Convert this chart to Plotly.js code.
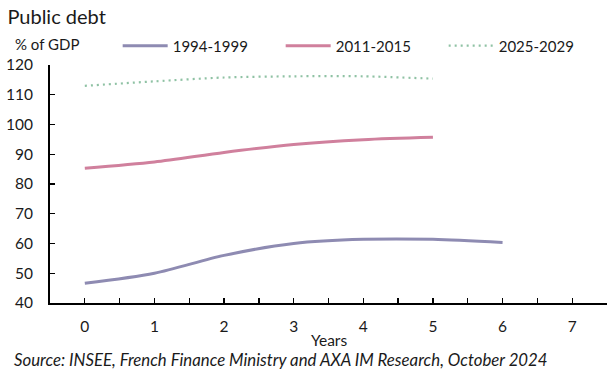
<!DOCTYPE html>
<html>
<head>
<meta charset="utf-8">
<script src="https://cdn.plot.ly/plotly-3.0.1.min.js"></script>
<style>html,body{margin:0;padding:0;background:#fff;}#chart{width:615px;height:379px;}</style>
</head>
<body>
<div id="chart"></div>
<script>
// Data
const years1 = [0, 1, 2, 3, 4, 5, 6];
const debt1994_1999 = [46.6, 50.0, 56.0, 60.0, 61.4, 61.4, 60.3];
const years2 = [0, 1, 2, 3, 4, 5];
const debt2011_2015 = [85.3, 87.4, 90.6, 93.3, 94.9, 95.7];
const years3 = [0, 1, 2, 3, 4, 5];
const debt2025_2029 = [113.0, 114.5, 115.8, 116.2, 116.2, 115.4];
const seriesNames = ['1994-1999', '2011-2015', '2025-2029'];
const xTickVals = [-0.5, 0, 0.5, 1, 1.5, 2, 2.5, 3, 3.5, 4, 4.5, 5, 5.5, 6, 6.5, 7, 7.5];
const xTickText = ['', '0', '', '1', '', '2', '', '3', '', '4', '', '5', '', '6', '', '7', ''];

const FONT = 'Lato, "Open Sans", sans-serif';
const TXT = '#1a1a1a';

const traces = [
  {x: years1, y: debt1994_1999, name: seriesNames[0], mode: 'lines',
   line: {color: '#8E8BB2', width: 3, shape: 'spline', smoothing: 0.8}},
  {x: years2, y: debt2011_2015, name: seriesNames[1], mode: 'lines',
   line: {color: '#D0809D', width: 3, shape: 'spline', smoothing: 0.8}},
  {x: years3, y: debt2025_2029, name: seriesNames[2], mode: 'lines',
   line: {color: '#8FC2A4', width: 2.2, dash: '2px,4px', shape: 'spline', smoothing: 0.8}}
];

const layout = {
  width: 615, height: 379,
  margin: {l: 50, r: 8, t: 65, b: 76},
  paper_bgcolor: '#fff', plot_bgcolor: '#fff',
  font: {family: FONT, color: TXT, size: 15},
  title: {text: 'Public debt', font: {family: FONT, size: 20, color: TXT},
          xref: 'container', yref: 'container', x: 0.012, xanchor: 'left', y: 0.955, yanchor: 'middle'},
  showlegend: true,
  legend: {orientation: 'h', x: 0.1215, xanchor: 'left', y: 1.08, yanchor: 'middle',
           font: {family: FONT, size: 15, color: TXT}, entrywidth: 103, itemwidth: 45,
           bgcolor: 'rgba(0,0,0,0)', traceorder: 'normal'},
  xaxis: {
    range: [-0.5, 7.5], tickmode: 'array', tickvals: xTickVals, ticktext: xTickText,
    ticks: 'inside', ticklen: 5, tickwidth: 1.3, tickcolor: '#000',
    showline: true, linecolor: '#000', linewidth: 2, showgrid: false, zeroline: false,
    ticklabelstandoff: 8, tickfont: {family: FONT, size: 15.5, color: TXT}, fixedrange: true
  },
  yaxis: {
    range: [40, 120], dtick: 10, tick0: 40,
    ticks: 'inside', ticklen: 5, tickwidth: 1.3, tickcolor: '#000',
    showline: true, linecolor: '#000', linewidth: 2, showgrid: false, zeroline: false,
    ticklabelstandoff: 12, tickfont: {family: FONT, size: 15.5, color: TXT}, fixedrange: true
  },
  annotations: [
    {text: '% of GDP', xref: 'paper', yref: 'paper', x: -0.066, y: 1.088, xanchor: 'left', yanchor: 'middle',
     showarrow: false, font: {family: FONT, size: 15, color: TXT}},
    {text: 'Years', xref: 'paper', yref: 'paper', x: 0.5, y: -0.154, xanchor: 'center', yanchor: 'middle',
     showarrow: false, font: {family: FONT, size: 15.5, color: TXT}},
    {text: '<i>Source: INSEE, French Finance Ministry and AXA IM Research, October 2024</i>',
     xref: 'paper', yref: 'paper', x: -0.068, y: -0.238, xanchor: 'left', yanchor: 'middle',
     showarrow: false, font: {family: FONT, size: 16.8, color: TXT}}
  ]
};

Plotly.newPlot('chart', traces, layout, {displayModeBar: false, staticPlot: true});
</script>
</body>
</html>
